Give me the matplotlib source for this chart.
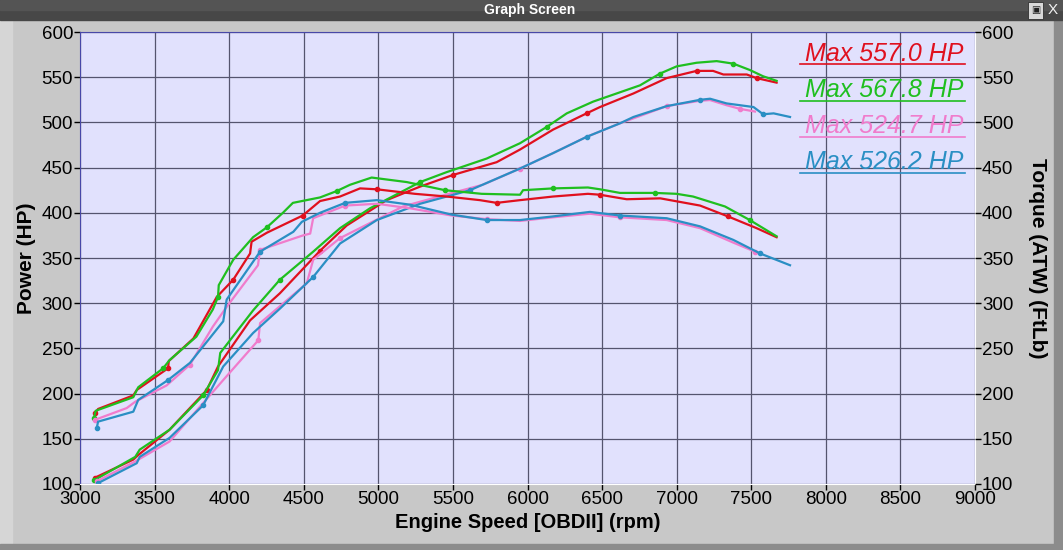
import matplotlib
matplotlib.use("Agg")
import matplotlib.pyplot as plt
from matplotlib.patches import Rectangle

# ---- data ----
green_pwr_rpm = [3093, 3370, 3400, 3600, 3825, 3925, 3940, 4160, 4340, 4563, 4743, 4944, 5280, 5458,
                 5726, 5950, 6129, 6263, 6440, 6754, 6888, 7000, 7134, 7268, 7380, 7490, 7580, 7670]
green_pwr = [104, 130, 138, 160, 198, 226, 245, 292, 326, 357, 383, 405, 434, 445,
             460, 477, 495, 510, 523, 541, 554, 562, 566, 567.8, 565, 558, 551, 546]

red_pwr_rpm = [3100, 3357, 3390, 3600, 3850, 3925, 4140, 4340, 4609, 4788, 5055, 5280, 5503, 5793,
               5950, 6171, 6396, 6486, 6710, 6933, 7134, 7244, 7313, 7470, 7536, 7670]
red_pwr = [107, 127, 132, 160, 204, 230, 281, 311, 358, 386, 414, 429, 442, 456,
           470, 492, 510, 517, 532, 549, 557, 557.0, 553, 553, 549, 544]

pink_pwr_rpm = [3112, 3370, 3600, 3960, 4195, 4207, 4520, 4563, 4743, 5165, 5450, 5700, 5950, 6171,
                6396, 6620, 6933, 7157, 7224, 7335, 7424, 7525]
pink_pwr = [103, 125, 147, 215, 259, 278, 322, 348, 372, 407, 420, 431, 449, 466,
            484, 499, 518, 524, 524.7, 519, 515, 512]

blue_pwr_rpm = [3121, 3380, 3400, 3600, 3825, 3960, 4160, 4340, 4563, 4743, 4990, 5280, 5614, 5726,
                5950, 6171, 6396, 6620, 6710, 6933, 7157, 7224, 7335, 7515, 7580, 7650, 7760]
blue_pwr = [101, 123, 130, 151, 187, 230, 267, 294, 329, 366, 392, 410, 425, 433,
            449, 466, 484, 499, 506, 518, 525, 526.2, 521, 517, 509, 510, 506]

green_tq_rpm = [3093, 3105, 3357, 3390, 3557, 3600, 3780, 3890, 3925, 3930, 4027, 4160, 4253, 4360,
                4427, 4609, 4720, 4810, 4955, 5190, 5447, 5693, 5950, 5970, 6171, 6405, 6486, 6620,
                6855, 7000, 7110, 7324, 7490, 7670]
green_tq = [173, 181, 196, 207, 228, 237, 263, 293, 307, 320, 348, 373, 384, 400,
            411, 417, 424, 431, 439, 434, 425, 421, 420, 425, 427, 428, 426, 422,
            422, 421, 418, 407, 392, 374]

red_tq_rpm = [3100, 3121, 3357, 3380, 3590, 3595, 3760, 3917, 4027, 4140, 4150, 4253, 4493, 4609,
              4743, 4877, 4990, 5245, 5458, 5681, 5793, 5950, 6171, 6405, 6486, 6665, 6890, 7157,
              7344, 7536, 7670]
red_tq = [178, 183, 198, 204, 228, 236, 261, 307, 326, 355, 368, 378, 397, 413,
          418, 427, 426, 421, 418, 414, 411, 414, 418, 421, 420, 415, 416, 408,
          396, 383, 373]

pink_tq_rpm = [3100, 3313, 3370, 3580, 3737, 3890, 3983, 4193, 4207, 4495, 4543, 4563, 4777, 4990,
               5212, 5491, 5726, 5950, 6171, 6418, 6620, 6933, 7157, 7380, 7525]
pink_tq = [171, 184, 191, 209, 232, 274, 296, 342, 359, 375, 377, 394, 408, 410,
           405, 397, 393, 391, 395, 399, 395, 392, 383, 367, 357]

blue_tq_rpm = [3112, 3121, 3357, 3390, 3590, 3737, 3960, 3983, 4207, 4430, 4487, 4609, 4777, 4990,
               5212, 5491, 5726, 5950, 6171, 6418, 6620, 6933, 7157, 7380, 7560, 7760]
blue_tq = [162, 169, 180, 193, 215, 234, 280, 304, 357, 379, 390, 400, 411, 414,
           409, 398, 392, 392, 396, 401, 397, 394, 385, 370, 355, 342]

legend_labels = ["Max 557.0 HP", "Max 567.8 HP", "Max 524.7 HP", "Max 526.2 HP"]

RED, GREEN, PINK, BLUE = "#e0101e", "#1fbf1f", "#f07ccc", "#2a8fc4"

plt.rcParams["font.family"] = ["Liberation Sans", "DejaVu Sans"]

fig = plt.figure(figsize=(10.63, 5.5), dpi=100, facecolor="#c8c8c8")

# window chrome
fig.patches.append(Rectangle((0, 0), 0.011, 1, transform=fig.transFigure, color="#d6d6d6", zorder=0))
fig.patches.append(Rectangle((0.992, 0), 0.008, 1, transform=fig.transFigure, color="#8c8c8c", zorder=0))
fig.patches.append(Rectangle((0, 0), 1, 0.011, transform=fig.transFigure, color="#8c8c8c", zorder=0))
fig.patches.append(Rectangle((0, 0.964), 1, 0.036, transform=fig.transFigure, color="#474747", zorder=1))
fig.patches.append(Rectangle((0, 0.982), 1, 0.018, transform=fig.transFigure, color="#545454", zorder=1))
fig.text(0.4986, 0.982, "Graph Screen", color="white", fontsize=10, fontweight="bold",
         ha="center", va="center", zorder=2)
fig.patches.append(Rectangle((0.9675, 0.966), 0.014, 0.031, transform=fig.transFigure,
                             facecolor="#d8d8d8", edgecolor="#303030", lw=0.6, zorder=2))
fig.text(0.9745, 0.981, "\u25a3", fontsize=7, ha="center", va="center", color="#202020", zorder=3)
fig.text(0.9905, 0.981, "X", fontsize=11, ha="center", va="center", color="#f0f0f0", zorder=3)

ax = fig.add_axes([0.0753, 0.12, 0.8419, 0.8218])
ax.set_facecolor("#e1e1fd")

line_kw = dict(lw=1.6, marker="o", markersize=3, markevery=4)
ax.plot(red_pwr_rpm, red_pwr, color=RED, **line_kw)
ax.plot(green_pwr_rpm, green_pwr, color=GREEN, **line_kw)
ax.plot(pink_pwr_rpm, pink_pwr, color=PINK, **line_kw)
ax.plot(blue_pwr_rpm, blue_pwr, color=BLUE, **line_kw)
ax.plot(red_tq_rpm, red_tq, color=RED, **line_kw)
ax.plot(green_tq_rpm, green_tq, color=GREEN, **line_kw)
ax.plot(pink_tq_rpm, pink_tq, color=PINK, **line_kw)
ax.plot(blue_tq_rpm, blue_tq, color=BLUE, **line_kw)

ax.set_xlim(3000, 9000)
ax.set_ylim(100, 600)
ax.set_xticks(range(3000, 9001, 500))
ax.set_yticks(range(100, 601, 50))
ax.grid(True, color="#54546e", lw=0.9)
ax.set_axisbelow(True)
ax.tick_params(axis="both", direction="out", length=4, width=1, labelsize=13.5, pad=1)
for s in ("left", "top"):
    ax.spines[s].set_color("#4848a8")
for s in ("right", "bottom"):
    ax.spines[s].set_color("white")

ax.set_xlabel("Engine Speed [OBDII] (rpm)", fontsize=14.5, fontweight="bold", labelpad=4)
ax.set_ylabel("Power (HP)", fontsize=15, fontweight="bold", labelpad=4)

ax2 = ax.twinx()
ax2.set_ylim(100, 600)
ax2.set_yticks(range(100, 601, 50))
ax2.tick_params(axis="y", direction="out", length=4, width=1, labelsize=13.5, pad=1)
for s in ax2.spines.values():
    s.set_visible(False)
ax2.set_ylabel("Torque (ATW) (FtLb)", fontsize=15, fontweight="bold", rotation=270, labelpad=24)

# max HP labels with underline
legend_colors = [RED, GREEN, PINK, BLUE]
underline_y = [0.9285, 0.848, 0.768, 0.689]
for label, col, uy in zip(legend_labels, legend_colors, underline_y):
    ax.text(0.987, uy + 0.008, label, transform=ax.transAxes, color=col, fontsize=18,
            fontstyle="italic", ha="right", va="baseline")
    ax.plot([0.805, 0.989], [uy, uy], transform=ax.transAxes, color=col, lw=1.2)

fig.savefig("out.png", dpi=100, facecolor=fig.get_facecolor())
